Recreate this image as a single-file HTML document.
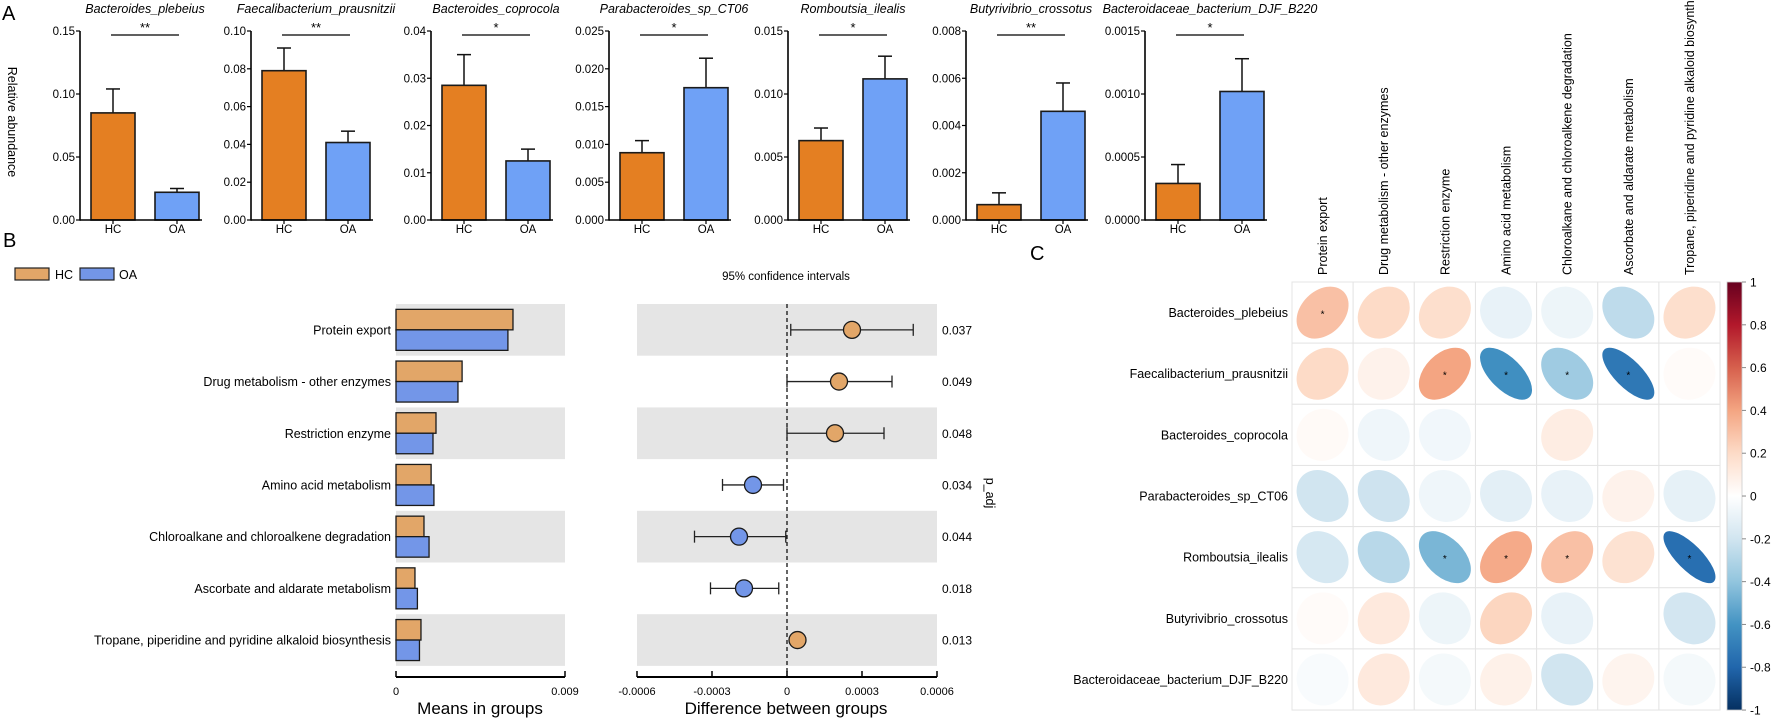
<!DOCTYPE html>
<html><head><meta charset="utf-8"><style>
html,body{margin:0;padding:0;background:#fff;}
svg{display:block;font-family:"Liberation Sans",Arial,sans-serif;}
</style></head><body>
<svg id="fig" width="1772" height="718" viewBox="0 0 1772 718" xmlns="http://www.w3.org/2000/svg"></svg>
<script>
// ---------- Panel A data ----------
const aTitles = ["Bacteroides_plebeius","Faecalibacterium_prausnitzii","Bacteroides_coprocola","Parabacteroides_sp_CT06","Romboutsia_ilealis","Butyrivibrio_crossotus","Bacteroidaceae_bacterium_DJF_B220"];
const aGroups = ["HC","OA"];
const aHC = [0.085,0.079,0.0285,0.0089,0.0063,0.00065,0.00029];
const aHCErr = [0.104,0.091,0.035,0.0105,0.0073,0.00115,0.00044];
const aOA = [0.022,0.041,0.0125,0.0175,0.0112,0.0046,0.00102];
const aOAErr = [0.025,0.047,0.015,0.0214,0.0130,0.0058,0.00128];
const aMax = [0.15,0.10,0.04,0.025,0.015,0.008,0.0015];
const aTicks = [
 ["0.00","0.05","0.10","0.15"],
 ["0.00","0.02","0.04","0.06","0.08","0.10"],
 ["0.00","0.01","0.02","0.03","0.04"],
 ["0.000","0.005","0.010","0.015","0.020","0.025"],
 ["0.000","0.005","0.010","0.015"],
 ["0.000","0.002","0.004","0.006","0.008"],
 ["0.0000","0.0005","0.0010","0.0015"]
];
const aSig = ["**","**","*","*","*","**","*"];
// ---------- Panel B data ----------
const bCats = ["Protein export","Drug metabolism - other enzymes","Restriction enzyme","Amino acid metabolism","Chloroalkane and chloroalkene degradation","Ascorbate and aldarate metabolism","Tropane, piperidine and pyridine alkaloid biosynthesis"];
const bHC = [0.00623,0.00352,0.00213,0.00187,0.00149,0.00101,0.00133];
const bOA = [0.00596,0.00330,0.00197,0.00202,0.00176,0.00114,0.00125];
const bDiff = [0.00026,0.000208,0.000192,-0.000136,-0.000192,-0.000172,0.000042];
const bLo = [0.000015,0.0,0.0,-0.000258,-0.00037,-0.000306,0.000032];
const bHi = [0.000505,0.00042,0.000388,-0.000014,-0.000005,-0.000033,0.000052];
const bP = ["0.037","0.049","0.048","0.034","0.044","0.018","0.013"];
const bMeanTicks = [0,0.009];
const bMeanTickLabels = ["0","0.009"];
const bDiffTicks = [-0.0006,-0.0003,0,0.0003,0.0006];
const bDiffTickLabels = ["-0.0006","-0.0003","0","0.0003","0.0006"];
// ---------- Panel C data ----------
const cRows = ["Bacteroides_plebeius","Faecalibacterium_prausnitzii","Bacteroides_coprocola","Parabacteroides_sp_CT06","Romboutsia_ilealis","Butyrivibrio_crossotus","Bacteroidaceae_bacterium_DJF_B220"];
const cCols = bCats;
const cR = [
 [0.30,0.20,0.18,-0.10,-0.08,-0.26,0.18],
 [0.20,0.07,0.40,-0.62,-0.36,-0.72,0.02],
 [0.03,-0.07,-0.06,0.0,0.10,0.0,0.0],
 [-0.20,-0.21,-0.07,-0.12,-0.10,0.07,-0.11],
 [-0.18,-0.28,-0.46,0.38,0.30,0.16,-0.76],
 [0.02,0.12,-0.08,0.22,-0.10,0.0,-0.19],
 [-0.03,0.12,-0.05,0.08,-0.20,0.06,-0.05]
];
const cSig = [
 [1,0,0,0,0,0,0],
 [0,0,1,1,1,1,0],
 [0,0,0,0,0,0,0],
 [0,0,0,0,0,0,0],
 [0,0,1,1,1,0,1],
 [0,0,0,0,0,0,0],
 [0,0,0,0,0,0,0]
];
const cBarTicks = [1,0.8,0.6,0.4,0.2,0,-0.2,-0.4,-0.6,-0.8,-1];

const NS="http://www.w3.org/2000/svg";
const svg=document.getElementById('fig');
function mk(tag,attrs,parent){const e=document.createElementNS(NS,tag);for(const k in attrs)e.setAttribute(k,attrs[k]);(parent||svg).appendChild(e);return e;}
function txt(s,attrs,parent){const e=mk('text',attrs,parent);e.textContent=s;return e;}

// ---------- Panel A ----------
let t=txt("A",{x:2,y:20,'font-size':20});

t=txt("Relative abundance",{x:0,y:0,'font-size':12.5,'text-anchor':'middle',transform:'translate(8,122) rotate(90)'});

const axX=[80,251,431,609,788,966,1145];
const aTop=31,aBase=220,aH=aBase-aTop;
for(let i=0;i<7;i++){
  const g=mk('g',{});
  
  
  const X=axX[i];
  const y=v=>aBase-v/aMax[i]*aH;
  const hcX=X+11,oaX=X+75,bw=44;
  const tt=txt(aTitles[i],{x:X+65,y:13,'font-size':12.5,'font-style':'italic','text-anchor':'middle'},g);
  
  // ticks
  const n=aTicks[i].length;
  for(let k=0;k<n;k++){
    const v=aMax[i]*k/(n-1);
    mk('line',{x1:X-4,x2:X,y1:y(v),y2:y(v),stroke:'#000','stroke-width':1.2},g);
    const tl=txt(aTicks[i][k],{x:X-5,y:y(v)+4,'font-size':11.5,'text-anchor':'end'},g);
    
  }
  const vals=[aHC[i],aOA[i]],errs=[aHCErr[i],aOAErr[i]],xs=[hcX,oaX],cols=['#E47F22','#6FA1F6'];
  for(let j=0;j<2;j++){
    const cx=xs[j]+bw/2;
    mk('line',{x1:cx,x2:cx,y1:y(vals[j]),y2:y(errs[j]),stroke:'#111','stroke-width':1.5},g);
    mk('line',{x1:cx-7,x2:cx+7,y1:y(errs[j]),y2:y(errs[j]),stroke:'#111','stroke-width':1.5},g);
    const b=mk('rect',{x:xs[j],y:y(vals[j]),width:bw,height:aBase-y(vals[j]),fill:cols[j],stroke:'#1a1a1a','stroke-width':1.6},g);
    
    
    mk('line',{x1:cx,x2:cx,y1:aBase,y2:aBase+4,stroke:'#000','stroke-width':1.2},g);
    const xl=txt(aGroups[j],{x:cx,y:aBase+13,'font-size':11.5,'text-anchor':'middle'},g);
    
  }
  mk('line',{x1:X,x2:X,y1:aTop,y2:aBase+0.8,stroke:'#000','stroke-width':1.6},g);
  mk('line',{x1:X,x2:X+122,y1:aBase,y2:aBase,stroke:'#000','stroke-width':1.6},g);
  const sl=mk('line',{x1:hcX+bw/2-2,x2:oaX+bw/2+2,y1:35,y2:35,stroke:'#000','stroke-width':1.3},g);
  
  const st=txt(aSig[i],{x:(hcX+oaX+bw)/2,y:32,'font-size':13,'text-anchor':'middle'},g);
  
}

// ---------- Panel B ----------
t=txt("B",{x:3,y:247,'font-size':20});

const lg=mk('g',{});

let r=mk('rect',{x:15,y:268,width:34,height:12,fill:'#E2A668',stroke:'#222','stroke-width':1.2},lg);

t=txt("HC",{x:55,y:279,'font-size':12.5},lg);

r=mk('rect',{x:80,y:268,width:34,height:12,fill:'#7396E8',stroke:'#222','stroke-width':1.2},lg);

t=txt("OA",{x:119,y:279,'font-size':12.5},lg);

t=txt("95% confidence intervals",{x:786,y:280,'font-size':11.5,'text-anchor':'middle'});


const bY0=304,bPitch=51.7,mL=396,mR=565,dL=637,dR=937;
const mx=v=>mL+(v-bMeanTicks[0])/(bMeanTicks[1]-bMeanTicks[0])*(mR-mL);
const dx=v=>dL+(v-bDiffTicks[0])/(bDiffTicks[bDiffTicks.length-1]-bDiffTicks[0])*(dR-dL);
for(let i=0;i<7;i++){
  const top=bY0+i*bPitch,cy=top+bPitch/2;
  if(i%2===0){
    r=mk('rect',{x:mL,y:top,width:mR-mL,height:bPitch,fill:'#e5e5e5'});
    
    r=mk('rect',{x:dL,y:top,width:dR-dL,height:bPitch,fill:'#e5e5e5'});
    
  }
  t=txt(bCats[i],{x:391,y:cy+4.5,'font-size':12.5,'text-anchor':'end'});
  
  r=mk('rect',{x:mL,y:cy-20.5,width:mx(bHC[i])-mL,height:20.5,fill:'#E2A668',stroke:'#1a1a1a','stroke-width':1.3});
  
  r=mk('rect',{x:mL,y:cy,width:mx(bOA[i])-mL,height:20.5,fill:'#7396E8',stroke:'#1a1a1a','stroke-width':1.3});
  
  t=txt(bP[i],{x:942,y:cy+4.5,'font-size':12});
  
}
let ln=mk('line',{x1:dx(0),x2:dx(0),y1:bY0,y2:677,stroke:'#000','stroke-width':1.2,'stroke-dasharray':'4,3'});

for(let i=0;i<7;i++){
  const cy=bY0+i*bPitch+bPitch/2;
  const eg=mk('g',{});
  
  mk('line',{x1:dx(bLo[i]),x2:dx(bHi[i]),y1:cy,y2:cy,stroke:'#222','stroke-width':1.3},eg);
  mk('line',{x1:dx(bLo[i]),x2:dx(bLo[i]),y1:cy-6,y2:cy+6,stroke:'#222','stroke-width':1.3},eg);
  mk('line',{x1:dx(bHi[i]),x2:dx(bHi[i]),y1:cy-6,y2:cy+6,stroke:'#222','stroke-width':1.3},eg);
  const c=mk('circle',{cx:dx(bDiff[i]),cy:cy,r:8.5,fill:bDiff[i]>=0?'#E2A668':'#7396E8',stroke:'#1a1a1a','stroke-width':1.3});
  
}
t=txt("p_adj",{x:0,y:0,'font-size':12.5,'text-anchor':'middle',transform:'translate(986,493) rotate(90)'});

// axes
const ma=mk('g',{});

mk('line',{x1:mL,x2:mR,y1:677,y2:677,stroke:'#000','stroke-width':2},ma);
for(let k=0;k<bMeanTicks.length;k++){
  const x=mx(bMeanTicks[k]);
  mk('line',{x1:x,x2:x,y1:671,y2:677,stroke:'#000','stroke-width':1.5},ma);
  txt(bMeanTickLabels[k],{x:x,y:695,'font-size':11,'text-anchor':'middle'},ma);
}
t=txt("Means in groups",{x:480,y:714,'font-size':17,'text-anchor':'middle'});

const da=mk('g',{});

mk('line',{x1:dL,x2:dR,y1:677,y2:677,stroke:'#000','stroke-width':2},da);
for(let k=0;k<bDiffTicks.length;k++){
  const x=dx(bDiffTicks[k]);
  mk('line',{x1:x,x2:x,y1:671,y2:677,stroke:'#000','stroke-width':1.5},da);
  txt(bDiffTickLabels[k],{x:x,y:695,'font-size':11,'text-anchor':'middle'},da);
}
t=txt("Difference between groups",{x:786,y:714,'font-size':17,'text-anchor':'middle'});


// ---------- Panel C ----------
t=txt("C",{x:1030,y:260,'font-size':20});

const gL=1292,gT=282,cs=61.15;
const stops=[[-1,[5,48,97]],[-0.8,[33,102,172]],[-0.6,[67,147,195]],[-0.4,[146,197,222]],[-0.2,[209,229,240]],[0,[255,255,255]],[0.2,[253,219,199]],[0.4,[244,165,130]],[0.6,[214,96,77]],[0.8,[178,24,43]],[1,[103,0,31]]];
function col(v){
  for(let k=0;k<stops.length-1;k++){
    const [a,ca]=stops[k],[b,cb]=stops[k+1];
    if(v>=a&&v<=b){const f=(v-a)/(b-a);return 'rgb('+ca.map((c,j)=>Math.round(c+(cb[j]-c)*f)).join(',')+')';}
  }
  return 'rgb(255,255,255)';
}
for(let j=0;j<7;j++){
  t=txt(cCols[j],{x:0,y:0,'font-size':12.5,transform:'translate('+(gL+cs*j+cs/2+4.5)+',275) rotate(-90)'});
  
}
for(let i=0;i<7;i++){
  t=txt(cRows[i],{x:1288,y:gT+cs*i+cs/2+4.5,'font-size':12.5,'text-anchor':'end'});
  
  for(let j=0;j<7;j++){
    const x=gL+cs*j,y=gT+cs*i,cx=x+cs/2,cy=y+cs/2;
    const cell=mk('rect',{x:x,y:y,width:cs,height:cs,fill:'#fff',stroke:'#e4e4e4','stroke-width':1});
    
    const v=cR[i][j],R0=26;
    const a=R0*Math.sqrt(1+Math.abs(v)),b=R0*Math.sqrt(1-Math.abs(v));
    const e=mk('ellipse',{cx:cx,cy:cy,rx:a,ry:b,fill:col(v),transform:'rotate('+(v>=0?-45:45)+' '+cx+' '+cy+')'});
    
    if(cSig[i][j]){
      const s=txt("*",{x:cx,y:cy+5,'font-size':10,'text-anchor':'middle'});
      
    }
  }
}
const defs=mk('defs',{});
const lgd=mk('linearGradient',{id:'cbar',x1:0,y1:0,x2:0,y2:1},defs);
for(let k=stops.length-1;k>=0;k--){
  const [v,c]=stops[k];
  mk('stop',{offset:((1-v)/2*100)+'%','stop-color':'rgb('+c.join(',')+')'},lgd);
}
const cb=mk('rect',{x:1727,y:gT,width:15,height:cs*7,fill:'url(#cbar)',stroke:'#ccc','stroke-width':0.8});

for(const v of cBarTicks){
  const y=gT+(1-v)/2*cs*7;
  mk('line',{x1:1742,x2:1746,y1:y,y2:y,stroke:'#888','stroke-width':1});
  t=txt(String(v),{x:1750,y:y+4.5,'font-size':12});
  
}
</script>
</body></html>
